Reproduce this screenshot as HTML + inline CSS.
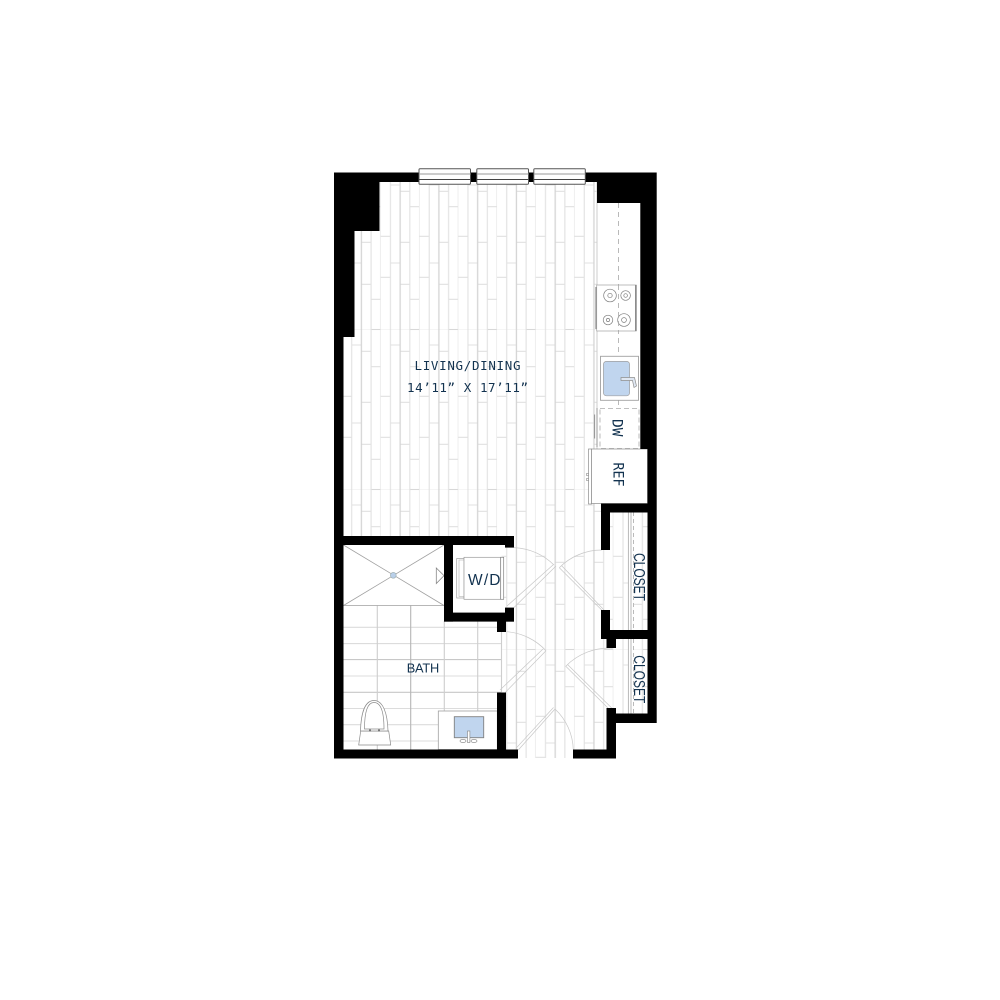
<!DOCTYPE html>
<html>
<head>
<meta charset="utf-8">
<style>
html,body{margin:0;padding:0;background:#fff;width:1000px;height:1000px;overflow:hidden}
svg{display:block}
text{fill:#12324f}
.m{font-family:"DejaVu Sans Mono","Liberation Mono",monospace}
.s{font-family:"Liberation Sans",sans-serif}
</style>
</head>
<body>
<svg width="1000" height="1000" viewBox="0 0 1000 1000" xmlns="http://www.w3.org/2000/svg">
<defs>
<pattern id="fl" patternUnits="userSpaceOnUse" x="342" y="0" width="38.76" height="160">
  <g stroke="#f5f5f5" stroke-width="1"><path d="M0 9.5H38.76"/></g>
  <g stroke="#e1e1e1" stroke-width="1.1" fill="none">
    <path d="M0 76.3H9.69M0 117.3H9.69"/>
    <path d="M9.69 25H19.38M9.69 103H19.38"/>
    <path d="M19.38 31.3H29.07M19.38 82.3H29.07M19.38 124.3H29.07"/>
    <path d="M29.07 46.7H38.76M29.07 139.3H38.76"/>
    <path d="M29.07 9.5H38.76" stroke="#d8d8d8"/>
    <path d="M9.69 0V160M29.07 0V160M38.76 0V160"/>
    <path d="M19.38 0V160" stroke="#d4d4d4" stroke-width="1.3"/>
  </g>
</pattern>
</defs>

<!-- floors -->
<rect x="343" y="182" width="257" height="323" fill="url(#fl)"/>
<rect x="343" y="505" width="267" height="253" fill="url(#fl)"/>
<rect x="610" y="512" width="38" height="202" fill="url(#fl)"/>

<!-- bath -->
<rect x="343.5" y="545" width="158" height="205" fill="#fff"/>
<g stroke="#dcdcdc" stroke-width="1.1" fill="none">
  <path d="M343.5 627.3H501.5M343.5 643.6H501.5M343.5 676H501.5M343.5 708.5H501.5M343.5 724.7H501.5M343.5 741H501.5"/>
  <path d="M343.5 659.6H501.5M343.5 692.3H501.5" stroke="#c8c8c8"/>
  <path d="M377.3 605V750M444.3 621V750M477.7 621V750M501.5 621V692" stroke="#cecece"/>
  <path d="M410.7 605V750" stroke="#b5b5b5"/>
</g>
<!-- shower -->
<rect x="343.5" y="545" width="100.5" height="60.5" fill="#fff"/>
<path d="M343.5 545L444 605.5M444 545L343.5 605.5M343.5 605.5H444" stroke="#a0a0a0" stroke-width=".8" fill="none"/>
<circle cx="393.3" cy="575.3" r="2.9" fill="#b9cfe9" stroke="#9aa" stroke-width=".6"/>
<path d="M436.3 568L444 575.6L436.3 583.5Z" fill="#fff" stroke="#888" stroke-width=".8"/>

<!-- toilet -->
<g fill="#fff" stroke="#8a8a8a" stroke-width=".7">
  <path d="M360.7 731L358.7 745H390.7L388.7 731Z"/>
  <path d="M360.5 731C361 713 365 700.5 374 700.5C383 700.5 387.5 713 388 731Z"/>
  <path d="M364.5 729C364.5 713 367 702.5 374 702.5C381 702.5 384 713 384 729Z"/>
</g>
<path d="M369 729.5h2v2h-2zM378 729.5h2v2h-2z" fill="#777"/>

<!-- vanity -->
<rect x="438.3" y="711" width="59" height="38.5" fill="#fff" stroke="#a0a0a0" stroke-width=".8"/>
<rect x="454.3" y="716.7" width="29.4" height="21" fill="#c0d5ee" stroke="#808080" stroke-width=".9"/>
<g fill="#fff" stroke="#808080" stroke-width=".6">
  <ellipse cx="463" cy="741" rx="3" ry="1.4"/>
  <ellipse cx="474" cy="741" rx="3" ry="1.4"/>
  <rect x="467.5" y="731" width="2.4" height="11.5"/>
</g>

<!-- kitchen counter -->
<rect x="597" y="203" width="43.5" height="246" fill="#fff"/>
<path d="M597 182V449" stroke="#c8c8c8" stroke-width=".9" fill="none"/>
<path d="M618.5 203V356M618.5 400V408" stroke="#a8a8a8" stroke-width=".8" stroke-dasharray="5 4" fill="none"/>
<!-- stove -->
<rect x="596.7" y="285" width="39.5" height="46" fill="#fff" stroke="#a0a0a0" stroke-width=".7"/>
<rect x="635" y="285" width="1.7" height="46" fill="#8c8c8c"/>
<rect x="595.3" y="287" width="1.7" height="42" fill="#999"/>
<g fill="none" stroke="#7c7c7c" stroke-width=".7">
  <circle cx="610" cy="295.5" r="6.3"/><circle cx="610" cy="295.5" r="2.2"/>
  <circle cx="625.6" cy="295.5" r="4.8"/><circle cx="625.6" cy="295.5" r="1.8"/>
  <circle cx="608" cy="320" r="4.8"/><circle cx="608" cy="320" r="1.6"/>
  <circle cx="624" cy="320" r="6.3"/><circle cx="624" cy="320" r="2.4"/>
</g>
<path d="M618.5 285V331" stroke="#a8a8a8" stroke-width=".8" stroke-dasharray="5 4"/>
<!-- sink -->
<rect x="600.5" y="356.3" width="38" height="44" fill="#fff" stroke="#a0a0a0" stroke-width=".9"/>
<rect x="603.4" y="361.4" width="26.2" height="34.4" rx="3" fill="#c0d5ee" stroke="#a0a0a0" stroke-width=".7"/>
<path d="M621 377.5H634.5L636.5 386L634 387.5L632.5 380.5H621Z" fill="#dfe7f2" stroke="#8e8e8e" stroke-width=".7"/>
<!-- DW -->
<rect x="600" y="408.5" width="39" height="40" fill="#fff" stroke="#aaa" stroke-width=".8" stroke-dasharray="5 3"/>
<path d="M597 408V447" stroke="#999" stroke-width="1"/>
<path d="M594.7 414.5V438.5" stroke="#808080" stroke-width=".8"/>
<!-- REF -->
<rect x="588.5" y="449" width="3" height="55" fill="#fff" stroke="#8c8c8c" stroke-width=".7"/>
<rect x="591.5" y="449" width="56" height="54.5" fill="#fff" stroke="#8c8c8c" stroke-width=".7"/>
<rect x="586.5" y="473.5" width="2" height="2" fill="#fff" stroke="#8c8c8c" stroke-width=".6"/>
<rect x="586.5" y="478.5" width="2" height="2" fill="#fff" stroke="#8c8c8c" stroke-width=".6"/>

<!-- W/D -->
<rect x="456.7" y="558.5" width="7.3" height="39.5" fill="#fff" stroke="#a0a0a0" stroke-width=".7"/>
<rect x="459" y="560" width="5" height="36.5" fill="#fff" stroke="#b5b5b5" stroke-width=".6"/>
<rect x="464" y="557.3" width="36.7" height="42" fill="#fff" stroke="#999" stroke-width=".7"/>
<rect x="500.7" y="557.3" width="3" height="42" fill="#fff" stroke="#808080" stroke-width=".7"/>

<!-- closets -->
<g fill="none">
  <rect x="628" y="512" width="5.5" height="118" fill="#fff"/>
  <rect x="628" y="639" width="5.5" height="75" fill="#fff"/>
  <path d="M628.3 512V630M631 512V630M628.3 639V714M631 639V714" stroke="#9c9c9c" stroke-width=".7"/>
  <path d="M633.6 512V630M633.6 639V714" stroke="#aaa" stroke-width=".8" stroke-dasharray="4 3"/>
</g>

<!-- doors -->
<g fill="none" stroke="#c8c8c8" stroke-width=".7">
  <path d="M514 547.6A60 60 0 0 1 554 565"/>
  <path d="M507 606L553.5 564.5M514 607.5L556 566"/>
  <path d="M601.7 550A60 60 0 0 0 559.3 567.7"/>
  <path d="M559.3 567.7L601.7 610M561.5 565.5L604 610"/>
  <path d="M506.7 631.7A60 60 0 0 1 546 650.7"/>
  <path d="M546 650.7L505 692.7M543 649L500 690"/>
  <path d="M612.7 648.3A60 60 0 0 0 566 666"/>
  <path d="M565.5 666L609 709M567.5 664.5L611.7 708"/>
  <path d="M555 709A58 58 0 0 1 573.3 750"/>
  <path d="M518.3 750L555 709M516 748.3L553.5 707.5"/>
</g>

<!-- walls -->
<g fill="#000">
  <polygon points="334,172.5 419,172.5 419,182 379.5,182 379.5,231 354.5,231 354.5,337 343.5,337 343.5,758.5 334,758.5"/>
  <rect x="470" y="172.5" width="8" height="9.5"/>
  <rect x="528" y="172.5" width="7" height="9.5"/>
  <polygon points="585,172.5 656.7,172.5 656.7,723 616,723 616,758.5 573,758.5 573,749.5 606.5,749.5 606.5,708 616,708 616,713.5 647.5,713.5 647.5,639 616,639 616,648 606.5,648 606.5,639 601,639 601,610 610,610 610,630 647.5,630 647.5,512.5 610,512.5 610,550 601,550 601,503.5 647.5,503.5 647.5,449 640.3,449 640.3,203 597,203 597,182 585,182"/>
  <rect x="334" y="749.5" width="184" height="9"/>
  <rect x="497" y="692.5" width="9" height="60"/>
  <rect x="343" y="536" width="171" height="9"/>
  <rect x="505" y="536" width="9" height="11.6"/>
  <rect x="444" y="545" width="9" height="76.6"/>
  <rect x="444" y="612.6" width="70" height="9"/>
  <rect x="505" y="607.6" width="9" height="14"/>
  <rect x="497" y="621" width="9" height="11"/>
</g>

<!-- windows -->
<g fill="#fff" stroke="#555" stroke-width="1">
  <rect x="419" y="168.7" width="51.5" height="15.6" rx="1"/>
  <rect x="476.8" y="168.7" width="51.7" height="15.6" rx="1"/>
  <rect x="533.8" y="168.7" width="51.5" height="15.6" rx="1"/>
</g>
<g stroke="#999" stroke-width="1"><path d="M419 174H470.5M476.8 174H528.5M533.8 174H585.3"/></g>
<g stroke="#444" stroke-width="1"><path d="M419 179.5H470.5M476.8 179.5H528.5M533.8 179.5H585.3"/></g>

<!-- labels -->
<text class="m" x="414.5" y="370" font-size="12.5" textLength="106" lengthAdjust="spacing">LIVING/DINING</text>
<text class="m" x="407" y="392" font-size="12.5" textLength="121" lengthAdjust="spacing">14’11” X 17’11”</text>
<text class="s" x="406.7" y="672.7" font-size="12.8" textLength="32.5">BATH</text>
<text class="s" x="468" y="585" font-size="15.5" textLength="32.5" lengthAdjust="spacing">W/D</text>
<text class="m" transform="translate(612.5,419) rotate(90)" font-size="14" textLength="17.5" lengthAdjust="spacingAndGlyphs">DW</text>
<text class="m" transform="translate(613.5,462.5) rotate(90)" font-size="14" textLength="24" lengthAdjust="spacingAndGlyphs">REF</text>
<text class="s" transform="translate(634,553) rotate(90)" font-size="16" textLength="48" lengthAdjust="spacingAndGlyphs">CLOSET</text>
<text class="s" transform="translate(634,655.3) rotate(90)" font-size="16" textLength="48" lengthAdjust="spacingAndGlyphs">CLOSET</text>
</svg>
</body>
</html>
